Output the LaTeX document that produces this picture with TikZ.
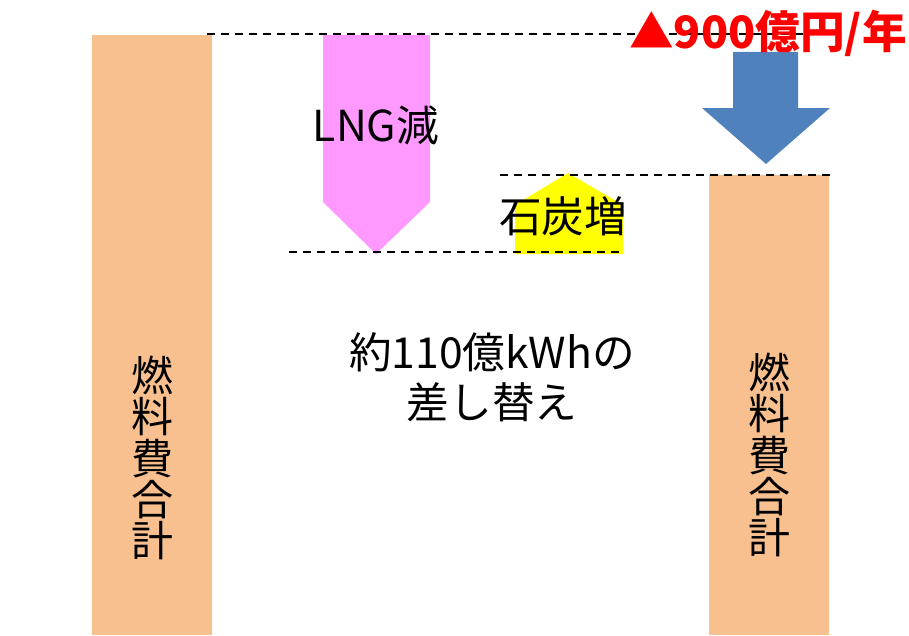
\documentclass[tikz,border=0pt]{standalone}
\usepackage{fontspec}
\setmainfont{Noto Sans CJK JP}
\newfontfamily\jp{Noto Sans CJK JP}
\definecolor{barorange}{HTML}{F9C08F}
\definecolor{lngpink}{HTML}{FF99FF}
\definecolor{coalyellow}{HTML}{FFFF00}
\definecolor{downblue}{HTML}{4F81BD}
\definecolor{redtxt}{HTML}{FF0000}
\tikzset{
  bar/.style={fill=barorange, draw=none},
  guide/.style={draw=black, dashed, dash pattern=on 6pt off 4.5pt, line width=1.1pt},
  lbl/.style={font=\jp\fontsize{32pt}{37.5pt}\selectfont, text=black, inner sep=0pt},
  vlbl/.style={font=\jp\fontsize{31.5pt}{31pt}\selectfont, align=center, inner sep=0pt},
}
\begin{document}
\begin{tikzpicture}[x=0.75pt,y=-0.75pt]
\useasboundingbox (0,0) rectangle (909,635);
% bars
\path[bar] (92,35) rectangle (212,635);
\path[bar] (709,175) rectangle (829,635);
% arrows
\path[fill=lngpink] (323,35) -- (430,35) -- (430,202) -- (376,254) -- (323,202) -- cycle;
\path[fill=coalyellow] (515,254) -- (515,205) -- (568,173) -- (623,205) -- (623,254) -- cycle;
\path[fill=downblue] (733,52) -- (798,52) -- (798,108) -- (830,108) -- (766,164) -- (702,108) -- (733,108) -- cycle;
% guide lines
\coordinate (g1a) at (207,34); \coordinate (g1b) at (830,34);
\coordinate (g2a) at (500,175); \coordinate (g2b) at (830,175);
\coordinate (g3a) at (289,252); \coordinate (g3b) at (622,252);
\draw[guide] (g1a) -- (g1b);
\draw[guide] (g2a) -- (g2b);
\draw[guide] (g3a) -- (g3b);
% labels
\node[lbl] (lng) at (376,125) {LNG減};
\node[lbl] (coal) at (563,216) {石炭増};
\node[lbl, align=center] (sub) at (492,377) {約110億kWhの\\差し替え};
\node[inner sep=0pt, text=redtxt, font=\jp\bfseries\fontsize{33.5pt}{36pt}\selectfont] (cut) at (768,33) {▲900億円/年};
\node[vlbl] (fl) at (152,458) {燃\\料\\費\\合\\計};
\node[vlbl] (fr) at (769,455) {燃\\料\\費\\合\\計};
\end{tikzpicture}
\end{document}
